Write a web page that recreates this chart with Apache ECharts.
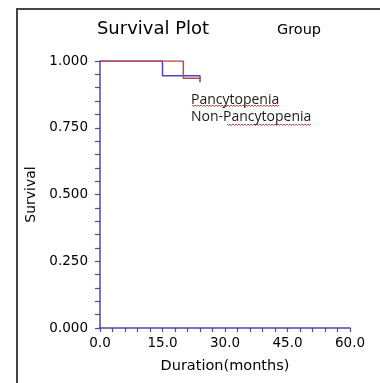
<!DOCTYPE html>
<html>
<head>
<meta charset="utf-8">
<script src="https://cdn.jsdelivr.net/npm/echarts@6/dist/echarts.min.js"></script>
<style>html,body{margin:0;padding:0;background:#fff;}#c{width:380px;height:383px;}</style>
</head>
<body>
<div id="c"></div>
<script>
// ---- data ----
const groupNames = ['Pancytopenia', 'Non-Pancytopenia'];
const pancyTimes = [0, 20, 24];
const pancySurv = [1.0, 0.935, 0.935];
const nonPancyTimes = [0, 15, 24, 24];
const nonPancySurv = [1.0, 0.945, 0.945, 0.92];
const xTickLabels = ['0.0', '15.0', '30.0', '45.0', '60.0'];
const yTickLabels = ['0.000', '0.250', '0.500', '0.750', '1.000'];

const axisColor = '#4a4aa6';
const font = 'DejaVu Sans, sans-serif';

function pairs(t, s) { return t.map((v, i) => [v, s[i]]); }

const chart = echarts.init(document.getElementById('c'), null, {renderer: 'canvas'});

// wavy underline decoration (spell-check style)
function wave(x0, x1, y) {
  const pts = [];
  let up = true;
  for (let x = x0; x <= x1; x += 1.5) { pts.push([x, y + (up ? 0 : 1.5)]); up = !up; }
  return pts;
}

chart.setOption({
  animation: false,
  backgroundColor: '#fff',
  title: [
    {text: 'Survival Plot', left: 148, top: 15, textAlign: 'center',
     textStyle: {fontFamily: font, fontSize: 18, fontWeight: 'normal', color: '#000'}},
    {text: 'Group', left: 294, top: 18, textAlign: 'center',
     textStyle: {fontFamily: font, fontSize: 14.5, fontWeight: 'normal', color: '#000'}}
  ],
  grid: {left: 100, right: 30, top: 61, bottom: 55, containLabel: false},
  legend: {
    orient: 'vertical', left: 181, top: 88, itemWidth: 0, itemHeight: 0, itemGap: 3,
    icon: 'rect', selectedMode: false,
    data: groupNames,
    textStyle: {fontFamily: 'Open Sans, sans-serif', fontSize: 14, color: '#1a1a1a', padding: 0}
  },
  xAxis: {
    type: 'value', min: 0, max: 60, interval: 3,
    name: 'Duration(months)', nameLocation: 'middle', nameGap: 31,
    nameTextStyle: {fontFamily: font, fontSize: 14.5, color: '#000'},
    axisLine: {show: true, onZero: false, lineStyle: {color: axisColor, width: 1.5}},
    axisTick: {show: true, length: 4, inside: false, lineStyle: {color: axisColor, width: 1.2}},
    axisLabel: {
      fontFamily: font, fontSize: 13.5, fontWeight: 'normal', color: '#000', margin: 8,
      formatter: v => (v % 15 === 0 ? xTickLabels[v / 15] : '')
    },
    splitLine: {show: false}
  },
  yAxis: {
    type: 'value', min: 0, max: 1, interval: 0.05,
    name: 'Survival', nameLocation: 'middle', nameGap: 59, nameRotate: 90,
    nameTextStyle: {fontFamily: font, fontSize: 14, color: '#000'},
    axisLine: {show: true, lineStyle: {color: axisColor, width: 1.5}},
    axisTick: {show: true, length: 5, lineStyle: {color: axisColor, width: 1.2}},
    axisLabel: {
      fontFamily: font, fontSize: 13.5, fontWeight: 'normal', color: '#000', margin: 12,
      formatter: v => {
        const k = Math.round(v * 20);
        return k % 5 === 0 ? yTickLabels[k / 5] : '';
      }
    },
    splitLine: {show: false}
  },
  series: [
    {name: groupNames[0], type: 'line', step: 'end', symbol: 'none',
     data: pairs(pancyTimes, pancySurv), lineStyle: {color: '#c04848', width: 1.5},
     itemStyle: {color: '#c04848'}, z: 3},
    {name: groupNames[1], type: 'line', step: 'end', symbol: 'none',
     data: pairs(nonPancyTimes, nonPancySurv), lineStyle: {color: '#4848bc', width: 1.5},
     itemStyle: {color: '#4848bc'}, z: 2}
  ],
  graphic: [
    {type: 'polyline', shape: {points: [[17, 383], [17, 9], [380, 9]]},
     style: {stroke: '#444', lineWidth: 2, fill: null}},
    {type: 'polyline', shape: {points: wave(192, 280, 105)}, style: {stroke: '#d03030', lineWidth: 0.9, fill: null}},
    {type: 'polyline', shape: {points: wave(227, 312, 124)}, style: {stroke: '#d03030', lineWidth: 0.9, fill: null}}
  ]
});
</script>
</body>
</html>
